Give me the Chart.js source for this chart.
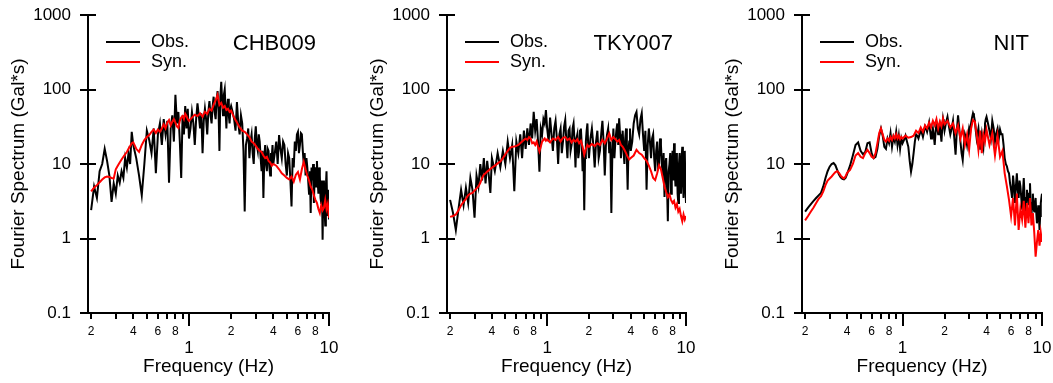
<!DOCTYPE html>
<html><head><meta charset="utf-8">
<script src="https://cdn.jsdelivr.net/npm/chart.js@4.4.1/dist/chart.umd.min.js"></script>
<style>
html,body{margin:0;padding:0;background:#fff;}
#wrap{position:relative;width:1053px;height:383px;overflow:hidden;background:#fff;}
.panel{position:absolute;top:0;height:383px;}
canvas{display:block;}
</style></head><body>
<div id="wrap">
<div class="panel" style="left:0;width:350px"><canvas id="c1" width="350" height="383"></canvas></div>
<div class="panel" style="left:350px;width:350px"><canvas id="c2" width="350" height="383"></canvas></div>
<div class="panel" style="left:700px;width:353px"><canvas id="c3" width="353" height="383"></canvas></div>
</div>
<script>
// ---- data ----
// frequencies (Hz) of the observed spectra
const freqObs = [
0.20,0.21,0.22,0.23,0.24,0.25,0.26,0.27,0.28,0.29,0.30,0.31,0.32,0.33,0.34,0.35,0.36,0.37,0.38,0.39,0.40,
0.42,0.44,0.46,0.48,0.50,0.52,0.54,0.56,0.58,0.60,0.62,0.64,0.66,0.68,0.70,0.72,0.74,0.76,0.78,0.80,0.82,0.84,0.86,0.88,0.90,0.92,0.94,0.96,0.98,1.00,
1.025,1.05,1.075,1.10,1.125,1.15,1.175,1.20,1.225,1.25,1.275,1.30,1.325,1.35,1.375,1.40,1.425,1.45,1.475,1.50,1.525,1.55,1.575,1.60,1.625,1.65,1.675,1.70,1.725,1.75,1.775,1.80,1.825,1.85,1.875,1.90,1.925,1.95,1.975,2.00,
2.05,2.10,2.15,2.20,2.25,2.30,2.35,2.40,2.45,2.50,2.55,2.60,2.65,2.70,2.75,2.80,2.85,2.90,2.95,3.00,3.05,3.10,3.15,3.20,3.25,3.30,3.35,3.40,3.45,3.50,3.55,3.60,3.65,3.70,3.75,3.80,3.85,3.90,3.95,4.00,
4.1,4.2,4.3,4.4,4.5,4.6,4.7,4.8,4.9,5.0,5.1,5.2,5.3,5.4,5.5,5.6,5.7,5.8,5.9,6.0,6.1,6.2,6.3,6.4,6.5,6.6,6.7,6.8,6.9,7.0,
7.1,7.2,7.3,7.4,7.5,7.6,7.7,7.8,7.9,8.0,8.1,8.2,8.3,8.4,8.5,8.6,8.7,8.8,8.9,9.0,9.1,9.2,9.3,9.4,9.5,9.6,9.7,9.8,9.9,10.0
];
// frequencies (Hz) of the synthetic spectra
const freqSyn = [
0.20,0.21,0.22,0.23,0.24,0.25,0.26,0.27,0.28,0.29,0.30,0.31,0.32,0.33,0.34,0.35,0.36,0.37,0.38,0.39,0.40,
0.42,0.44,0.46,0.48,0.50,0.52,0.54,0.56,0.58,0.60,0.62,0.64,0.66,0.68,0.70,0.72,0.74,0.76,0.78,0.80,0.82,0.84,0.86,0.88,0.90,0.92,0.94,0.96,0.98,1.00,
1.05,1.10,1.15,1.20,1.25,1.30,1.35,1.40,1.45,1.50,1.55,1.60,1.65,1.70,1.75,1.80,1.85,1.90,1.95,2.00,
2.1,2.2,2.3,2.4,2.5,2.6,2.7,2.8,2.9,3.0,3.1,3.2,3.3,3.4,3.5,3.6,3.7,3.8,3.9,4.0,
4.2,4.4,4.6,4.8,5.0,5.2,5.4,5.6,5.8,6.0,6.2,6.4,6.6,6.8,7.0,7.2,7.4,7.6,7.8,8.0,8.2,8.4,8.6,8.8,9.0,9.2,9.4,9.6,9.8,10.0
];
const stations = ['CHB009','TKY007','NIT'];
const seriesNames = ['Obs.','Syn.'];
const xTickValues = [0.2,0.3,0.4,0.5,0.6,0.7,0.8,0.9,1,2,3,4,5,6,7,8,9,10];
const xTickLabels = ['2','','4','','6','','8','','1','2','','4','','6','','8','','10'];
const yTickValues = [0.1,1,10,100,1000];
const yTickLabels = ['0.1','1','10','100','1000'];

const obsCHB009 = [
2.4,5,3.5,8,10,16,11,7,3.1,5.5,4,7,5.6,8,6.5,12,9,14,10,27,18,
12,7,3.8,10,28,21,14,30,7.5,25,35,18,40,25,38,5.6,30,45,20,85,35,50,20,6.5,45,25,60,30,55,22,
30,50,35,18,40,65,45,30,48,14,38,55,40,25,50,70,45,35,60,80,50,40,70,95,55,15,80,127,70,45,85,100,55,30,60,75,45,35,55,60,
50,40,28,68,35,25,45,35,15,2.3,18,22,30,12,20,25,14,10,22,32,18,15,25,20,12,8,15,3.5,12,18,10,8,16,15,9,7,14,12,18,10,
14,20,10,24.5,16,12,20,18,10,7,14,12,6,2.7,12,9,20,15,25,27,14,18,26,25,15,10,14,7,12,9,
6,4,8,2.2,9,6,10,3,7,9,5,11,6,4,9,7,3.5,3,6,0.96,4,6,2.5,1.5,5,8,3,2,4.5,1.8
];
const synCHB009 = [
4.3,4.8,5.2,5.7,6.2,6.6,6.8,6.7,6.5,6.4,8.5,9.5,10.5,11.5,12.5,13.5,14.5,16,17.5,19,19.5,
16,14.5,18,21,23,24.5,27,29,26,29,27,30,34,30,36,39,33,37,40,36,32,30.5,38,42,44,40,47,44,40,38,
42,46,44,48,43,50,47,55,52,62,72,85,62,66,57,60,53,55,50,52,
42,36,31,28,27,25,23,20,19,17.5,16,15,14.5,13,12,12.5,11,10.5,9.5,10,
9.5,8.5,7.5,7,6.5,6.2,6.8,5.8,7.2,7.8,6.2,8.5,10.7,8.5,7,6,5,4.5,3.8,3.3,3.0,2.5,2.2,2.8,2.4,2.6,3.3,2.5,2.9,1.9
];
const obsTKY007 = [
3.3,2.2,1.3,2.5,4.5,2.8,4.8,3.0,6.5,4.5,1.9,7,5,10,6,12,5.5,11,7,4.1,12,
8,14,9,15,10,20,12,18,4.3,20,14,25,12,28,16,30,18,35,22,50,28,40,20,7.9,30,25,40,35,53,30,
20,42,25,15,30,38,22,10,25,30,14,20,32,39,20,12,28,30,15,18,30,35,20,9,22,25,12,15,28,30,18,8,15,2.4,12,20,28,35,18,12,
22,30,18,9,20,28,12,15,25,38,20,7,18,25,30,14,20,2.2,15,30,12,20,28,35,18,41,25,12,20,28,15,10,22,30,12,4.5,15,20,30,15,
20,35,45,50,30,25,40,48,25,15,28,4.5,18,30,20,12,22,25,12,8,15,20,9,10,22,18,10,7,14,3.6,
10,12,5,1.7,8,10,14,4,9,15,6,19,8,5,14,12,4,3,10,14,6,4,12,17,6,3.5,10,15,5,3
];
const synTKY007 = [
1.95,2.0,2.1,2.4,2.8,3.1,3.4,3.8,4.0,4.1,4.4,4.7,5.0,5.6,6.5,7.2,7.5,7.9,8.2,8.6,8.9,
9.5,10.2,10.8,12,13.5,15,16.5,17,17.2,17.5,18,19,20,21,22,21,23,22,19,19.5,18,20,17,14.7,17,20,21,22,20.5,21.5,
19.5,22,21,23,20,22.5,23,21,22,19.5,21,20,21.5,19,20.5,17,13.3,16,18,17,
18.5,17.5,19,18,21,19,22,25.8,21,23,21.5,20,21,18,17,15.5,14,12.5,11.5,12,
13,15.5,14,13.3,12,11,9.5,8,6.5,6.1,7.5,9.6,8.5,6.5,5,4.2,3.6,3.9,3.3,3.0,3.2,2.6,2.9,2.3,2.5,2.0,1.7,2.1,1.8,2.0
];
const obsNIT = [
2.3,2.6,2.9,3.2,3.5,3.8,4.1,5.0,6.5,8,9.2,10,10.3,9.6,8.3,7.2,6.6,6.3,6.2,6.5,7.3,
9.5,13,18,19.5,15,13.5,14.5,19,19.5,14,12,12.5,16,24,30,24,17,16,22,19,26,17,23,20,27,18,24,16,22,19,
21,24,20,17,11,7.9,10,14,20,25,24,22,25,28,26,23,27,32,30,27,31,36,28,22,26,30,24,18,27,35,30,25,29,33,26,20,30,40,34,28,
36,43,32,25,30,38,22,13.3,28,45,30,20,14,11.3,18,25,22,18,24,30,26,35,42,48,44,38,28,22,26,30,22,16,20,25,20,17,26,35,40,43,
35,28,22,38,30,20,26,30,22,29,25,25,18,12,10,9.3,8,7.5,5.5,4.5,3.5,7,5,3,5,7.5,4.5,3.5,6,5,
3.5,2.5,4,6.5,3.5,2,3.5,4.5,3.5,2.8,4,5.5,3,2,3,4,2.5,2.3,3,3.5,2.2,1.6,2,2.8,2,1.3,2,3,3.5,4
];
const synNIT = [
1.75,2.0,2.3,2.6,3.0,3.4,3.7,4.3,5.2,6.0,6.4,6.8,7.3,7.8,8.0,7.6,7.0,6.6,6.4,6.8,7.6,
8.3,10,13,14,12.5,12,14,15.5,14,12.5,12,14,19,26,30,25,21,20,22,20.5,23,21,24,22,25,22,24,21.5,23,22,
24,22.5,23,24,28,26,31,27,33,30,36,31,38,33,40,30,37,32,41,34,
38,31,35,26,33,22,30,18,25,15.5,30,39,37,25,15.5,28,14,25,20,29,
18,26,13,24,12.5,15,7.5,5,3.3,2.0,3.5,1.5,4,1.3,2.5,1.8,3.2,1.4,3,1.6,3.5,1.5,2.2,1.2,0.57,0.9,1.3,0.8,1.2,0.9
];

// ---- rendering ----
const FONT = "'Liberation Sans', Arial, sans-serif";
const OBS_COLOR = '#000000';
const SYN_COLOR = '#ff0000';

const decor = {
  id: 'decor',
  afterDraw(chart, args, opts) {
    const {ctx, chartArea, scales} = chart;
    const x = scales.x, y = scales.y;
    ctx.save();
    ctx.strokeStyle = '#000';
    ctx.lineWidth = 2;
    ctx.beginPath();
    for (const v of yTickValues) {
      const py = Math.round(y.getPixelForValue(v));
      ctx.moveTo(chartArea.left - 8, py);
      ctx.lineTo(chartArea.left + 8, py);
    }
    for (const v of xTickValues) {
      const px = Math.round(x.getPixelForValue(v));
      const len = (v === 1 || v === 10) ? 13 : 6;
      ctx.moveTo(px, chartArea.bottom);
      ctx.lineTo(px, chartArea.bottom + len);
    }
    ctx.stroke();
    // legend
    const ds = chart.data.datasets;
    const items = [ds.find(d => d.label === seriesNames[0]), ds.find(d => d.label === seriesNames[1])];
    const lx = chartArea.left + 18;
    items.forEach((d, i) => {
      const ly = 42 + i * 20;
      ctx.strokeStyle = d.borderColor;
      ctx.lineWidth = 2;
      ctx.beginPath();
      ctx.moveTo(lx, ly);
      ctx.lineTo(lx + 34, ly);
      ctx.stroke();
      ctx.fillStyle = '#000';
      ctx.font = '18px ' + FONT;
      ctx.textBaseline = 'middle';
      ctx.textAlign = 'left';
      ctx.fillText(d.label, lx + 45, ly);
    });
    // station name
    ctx.fillStyle = '#000';
    ctx.font = '22px ' + FONT;
    ctx.textAlign = 'right';
    ctx.textBaseline = 'middle';
    ctx.fillText(opts.station, chartArea.right - 13, 44);
    ctx.restore();
  }
};

function makeChart(id, station, obs, syn, padLeft, padRight) {
  const toPts = (fs, arr) => fs.map((f, i) => ({x: f, y: arr[i]}));
  return new Chart(document.getElementById(id), {
    type: 'line',
    data: {
      datasets: [
        {label: seriesNames[0], data: toPts(freqObs, obs), borderColor: OBS_COLOR, borderWidth: 2, pointRadius: 0, tension: 0, order: 1, fill: false},
        {label: seriesNames[1], data: toPts(freqSyn, syn), borderColor: SYN_COLOR, borderWidth: 2, pointRadius: 0, tension: 0, order: 0, fill: false}
      ]
    },
    options: {
      responsive: false,
      animation: false,
      devicePixelRatio: 1,
      layout: {padding: {left: padLeft, right: padRight, top: 15, bottom: 0}},
      plugins: {legend: {display: false}, tooltip: {enabled: false}, decor: {station}},
      scales: {
        x: {
          type: 'logarithmic', position: 'bottom', min: 0.19, max: 10, bounds: 'data',
          grid: {display: false, drawTicks: false},
          border: {display: true, color: '#000', width: 2},
          afterBuildTicks: s => { s.ticks = xTickValues.map(v => ({value: v})); },
          afterFit: s => { s.height = 70; s.paddingLeft = 0; s.paddingRight = 0; s.paddingTop = 0; s.paddingBottom = 0; },
          ticks: {
            autoSkip: false, maxRotation: 0, minRotation: 0, padding: 11, color: '#000',
            callback: (v, i) => xTickLabels[i],
            font: c => (c.tick && (c.tick.value === 1 || c.tick.value === 10))
              ? {size: 17, family: FONT, lineHeight: '49px'}
              : {size: 12, family: FONT, lineHeight: '15px'}
          },
          title: {display: true, text: 'Frequency (Hz)', color: '#000', font: {size: 19, family: FONT}, padding: {top: 0, bottom: 5}}
        },
        y: {
          type: 'logarithmic', position: 'left', min: 0.1, max: 1000, bounds: 'data',
          grid: {display: false, drawTicks: false},
          border: {display: true, color: '#000', width: 2},
          afterBuildTicks: s => { s.ticks = yTickValues.map(v => ({value: v})); },
          afterFit: s => { s.width = 88; s.paddingLeft = 0; s.paddingRight = 0; s.paddingTop = 0; s.paddingBottom = 0; },
          ticks: {
            autoSkip: false, padding: 17, color: '#000',
            callback: (v, i) => yTickLabels[i],
            font: {size: 17, family: FONT}
          },
          title: {display: true, text: 'Fourier Spectrum (Gal*s)', color: '#000', font: {size: 19, family: FONT}, padding: {top: 7, bottom: 0}}
        }
      }
    },
    plugins: [decor]
  });
}

makeChart('c1', stations[0], obsCHB009, synCHB009, 0, 21);
makeChart('c2', stations[1], obsTKY007, synTKY007, 9, 14);
makeChart('c3', stations[2], obsNIT, synNIT, 14, 11);
</script>
</body></html>
